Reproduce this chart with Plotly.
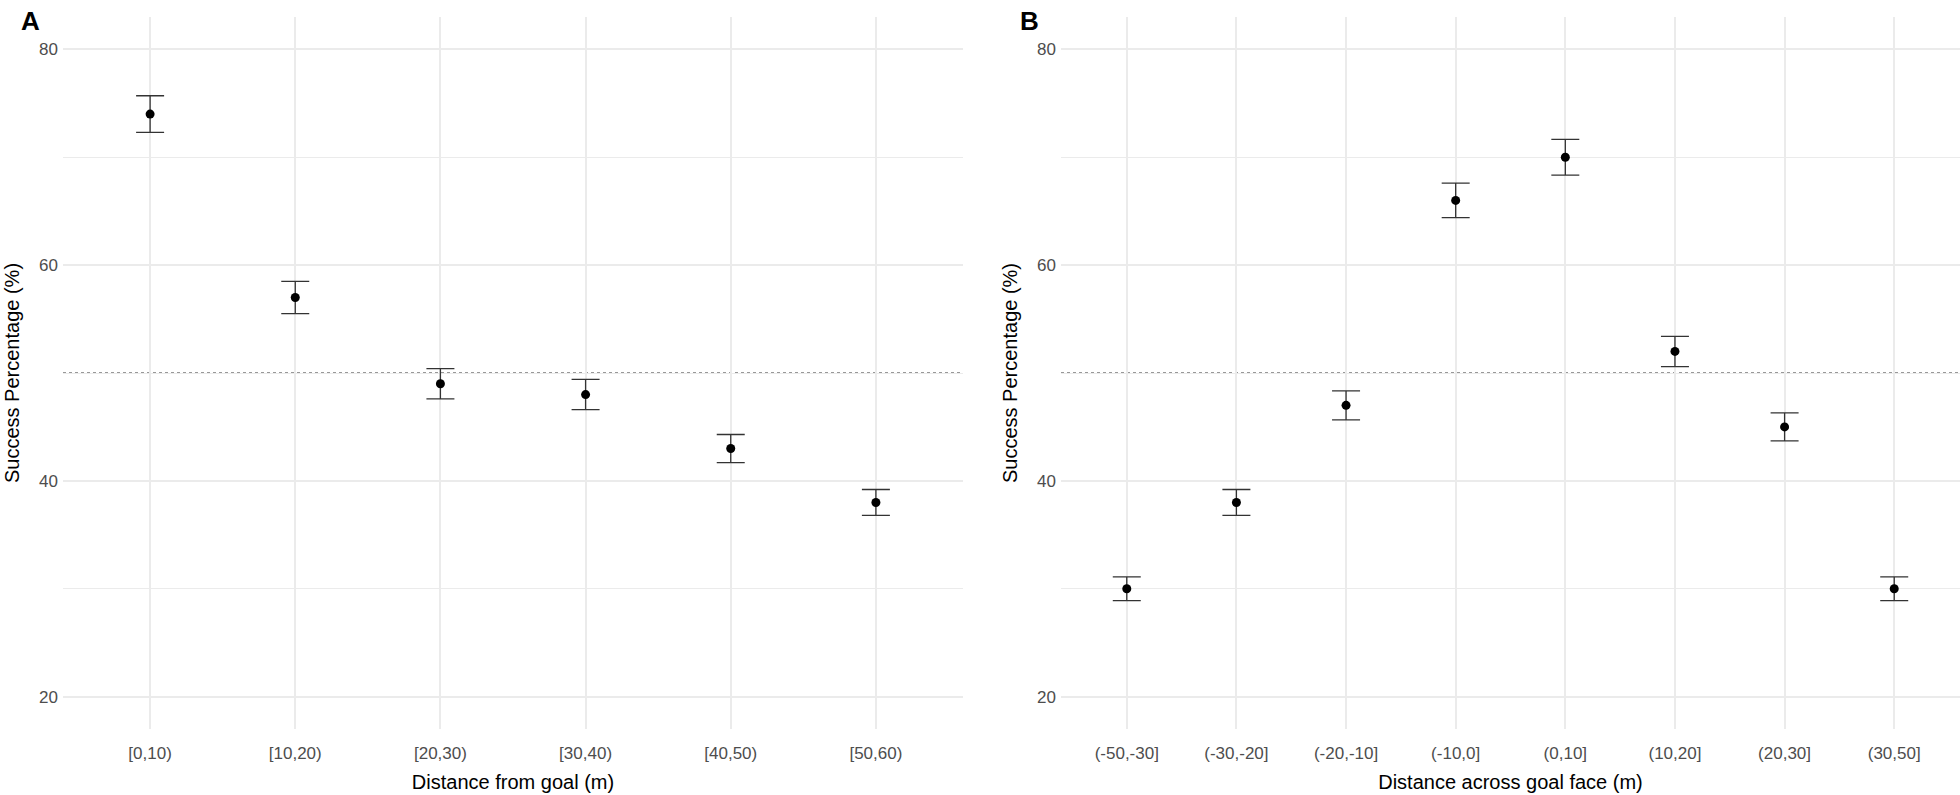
import plotly.graph_objects as go

# ---- data ----
dist_from_goal = ["[0,10)", "[10,20)", "[20,30)", "[30,40)", "[40,50)", "[50,60)"]
success_a = [74, 57, 49, 48, 43, 38]
err_a = [1.7, 1.5, 1.4, 1.4, 1.3, 1.2]

dist_across = ["(-50,-30]", "(-30,-20]", "(-20,-10]", "(-10,0]", "(0,10]", "(10,20]", "(20,30]", "(30,50]"]
success_b = [30, 38, 47, 66, 70, 52, 45, 30]
err_b = [1.1, 1.2, 1.35, 1.6, 1.65, 1.4, 1.3, 1.1]

reference_line = 50
y_ticks = [20, 40, 60, 80]

W, H = 1960, 795
FONT = "Liberation Sans, Arial, sans-serif"
GRID = "#EBEBEB"

fig = go.Figure()

def add_panel(cats, vals, errs, xa, ya):
    fig.add_trace(go.Scatter(
        x=cats, y=vals, mode="markers",
        marker=dict(color="black", size=9),
        error_y=dict(type="data", array=errs, symmetric=True,
                     color="#333333", thickness=1.3, width=14),
        xaxis=xa, yaxis=ya, showlegend=False, hoverinfo="x+y"))

add_panel(dist_from_goal, success_a, err_a, "x", "y")
add_panel(dist_across, success_b, err_b, "x2", "y2")

ydom = [1 - 729 / H, 1 - 17 / H]
xdomA = [63 / W, 963 / W]
xdomB = [1061 / W, 1.0]

def xaxis(dom, n, title, anchor):
    return dict(domain=dom, anchor=anchor, type="category", range=[-0.6, n - 0.4],
                showgrid=True, gridcolor=GRID, gridwidth=1.6, zeroline=False,
                showline=False, ticks="", ticklabelstandoff=12,
                tickfont=dict(family=FONT, size=17, color="#4D4D4D"),
                title=dict(text=title, font=dict(family=FONT, size=20, color="black"), standoff=12))

def yaxis(anchor):
    return dict(domain=ydom, anchor=anchor, range=[17, 83], tickvals=y_ticks,
                showgrid=True, gridcolor=GRID, gridwidth=1.6, zeroline=False,
                showline=False, ticks="", ticklabelstandoff=4,
                minor=dict(tickvals=[30, 50, 70], showgrid=True, gridcolor=GRID, gridwidth=0.9),
                tickfont=dict(family=FONT, size=17, color="#4D4D4D"),
                title=dict(text="Success Percentage (%)", font=dict(family=FONT, size=20, color="black"), standoff=14))

fig.update_layout(
    width=W, height=H, margin=dict(l=0, r=0, t=0, b=0),
    paper_bgcolor="white", plot_bgcolor="white",
    font=dict(family=FONT),
    xaxis=xaxis(xdomA, len(dist_from_goal), "Distance from goal (m)", "y"),
    yaxis=yaxis("x"),
    xaxis2=xaxis(xdomB, len(dist_across), "Distance across goal face (m)", "y2"),
    yaxis2=yaxis("x2"),
)

for xr, yr in (("x", "y"), ("x2", "y2")):
    fig.add_shape(type="line", xref=f"{xr} domain", yref=yr, x0=0, x1=1,
                  y0=reference_line, y1=reference_line,
                  line=dict(color="#333333", width=1.2, dash="dot"), layer="below")

for txt, xp in (("A", 19), ("B", 1018)):
    fig.add_annotation(text=f"<b>{txt}</b>", x=xp / W, y=1 - 4 / H, xref="paper", yref="paper",
                       xanchor="left", yanchor="top", showarrow=False,
                       font=dict(family=FONT, size=26, color="black"))

fig.write_html("out.html", config={"displayModeBar": False},
               post_script="document.body.style.margin='0';document.body.style.overflow='hidden';")
